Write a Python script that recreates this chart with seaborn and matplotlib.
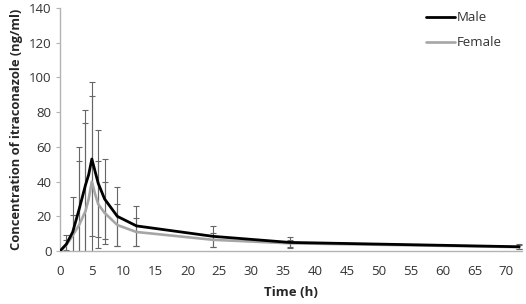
import numpy as np
import pandas as pd
import seaborn as sns
import matplotlib.pyplot as plt

# sampling times (h)
time_h = [0, 1, 2, 3, 3.5, 4, 4.5, 5, 5.5, 6, 7, 9, 12, 24, 36, 72]

# mean concentrations (ng/ml)
male_mean = [0, 4, 11, 24, 31, 38, 44, 53, 46, 39, 30, 20, 14.5, 8.5, 5, 2.5]
female_mean = [0, 3.5, 9, 15, 19, 23, 30, 40, 33, 27, 22, 15, 11, 6.5, 4.5, 2.3]

# standard deviations (NaN = no bar drawn)
male_sd = [np.nan, 5, 20, 36, np.nan, 43, np.nan, 44.5, np.nan, 31, 23, 17, 11.7, 6, 3, 1.5]
female_sd = [np.nan, 3, 12, 37, np.nan, 51, np.nan, 49, np.nan, 25, 18, 12, 8, 4, 2, 1]

df = pd.DataFrame({
    'time': time_h * 2,
    'conc': male_mean + female_mean,
    'sd': male_sd + female_sd,
    'sex': ['Male'] * len(time_h) + ['Female'] * len(time_h),
})

sns.set_style('white')
plt.rcParams['font.family'] = ['Open Sans', 'DejaVu Sans']

fig = plt.figure(figsize=(5.26, 3.04), dpi=100)
ax = fig.add_axes([0.114, 0.174, 0.879, 0.8])

palette = {'Male': '#000000', 'Female': '#a6a6a6'}
widths = {'Male': 2.0, 'Female': 1.9}

for sex in ['Female', 'Male']:
    d = df[df['sex'] == sex]
    ax.errorbar(d['time'], d['conc'], yerr=d['sd'], fmt='none',
                ecolor='#666666', elinewidth=0.8, capsize=2.2, capthick=0.8, zorder=1)

for sex in ['Female', 'Male']:
    d = df[df['sex'] == sex]
    sns.lineplot(data=d, x='time', y='conc', color=palette[sex], lw=widths[sex],
                 ax=ax, label=sex, zorder=3 if sex == 'Male' else 2, legend=False)

ax.set_xlim(0, 72.5)
ax.set_ylim(0, 140)
ax.set_xticks(np.arange(0, 71, 5))
ax.set_yticks(np.arange(0, 141, 20))

for s in ['top', 'right']:
    ax.spines[s].set_visible(False)
for s in ['left', 'bottom']:
    ax.spines[s].set_color('#b3b3b3')
    ax.spines[s].set_linewidth(1.0)

ax.tick_params(axis='y', length=3, width=0.8, color='#b3b3b3', direction='out',
               labelsize=9.5, labelcolor='#333333', pad=3, left=True)
ax.tick_params(axis='x', length=0, labelsize=9.5, labelcolor='#333333', pad=10)

ax.set_xlabel('Time (h)', fontsize=9.5, fontweight='bold', color='#262626', labelpad=6)
ax.set_ylabel('Concentration of itraconazole (ng/ml)', fontsize=9.3,
              fontweight='bold', color='#262626', labelpad=4)

handles, labels = ax.get_legend_handles_labels()
order = [labels.index('Male'), labels.index('Female')]
leg = ax.legend([handles[i] for i in order], [labels[i] for i in order],
                loc='upper left', bbox_to_anchor=(0.765, 1.035), frameon=False,
                fontsize=9.5, handlelength=2.2, handletextpad=0.2, labelspacing=0.9)
for t in leg.get_texts():
    t.set_color('#333333')

fig.savefig('out.png', dpi=100)
